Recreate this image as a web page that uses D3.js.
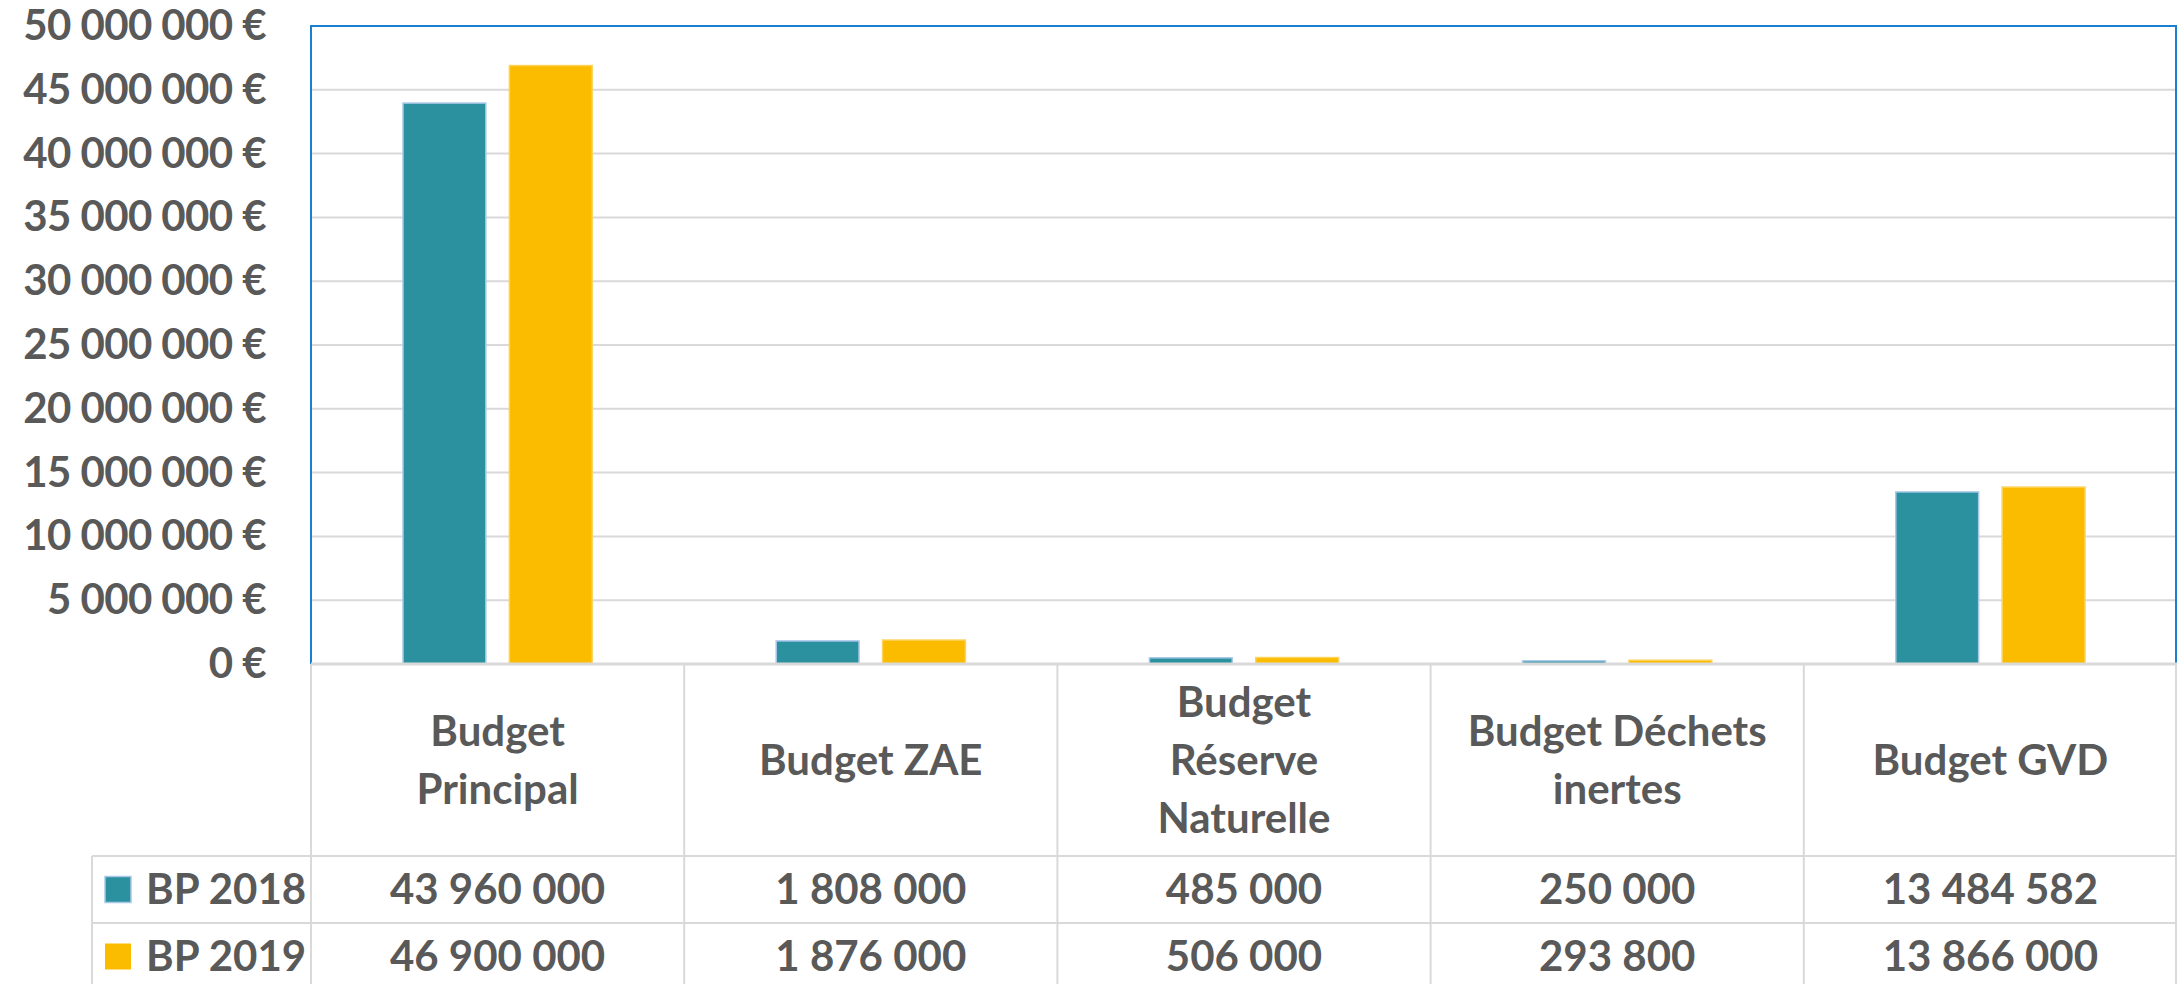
<!DOCTYPE html>
<html lang="fr">
<head>
<meta charset="utf-8">
<script src="https://cdn.jsdelivr.net/npm/d3@7"></script>
<style>
    body { margin: 0; background: #fff; }
    svg { display: block; font-family: Lato, "Open Sans", sans-serif; font-weight: 700; }
</style>
</head>
<body>
<div id="chart"></div>
<script>
// --- Données ---
const categories = ["Budget\nPrincipal", "Budget ZAE", "Budget\nRéserve\nNaturelle", "Budget Déchets\ninertes", "Budget GVD"];
const seriesNames = ["BP 2018", "BP 2019"];
const bp2018 = [43960000, 1808000, 485000, 250000, 13484582];
const bp2019 = [46900000, 1876000, 506000, 293800, 13866000];
const yTicks = [0, 5000000, 10000000, 15000000, 20000000, 25000000, 30000000, 35000000, 40000000, 45000000, 50000000];

const colors = { "BP 2018": "#2c919e", "BP 2019": "#fbbc00" };
const strokes = { "BP 2018": "#a8c8ea", "BP 2019": "#fdd25a" };

const frLocale = d3.formatLocale({ decimal: ",", thousands: "\u00a0", grouping: [3], currency: ["", "\u00a0€"] });
const fmtEuro = frLocale.format("$,");
const fmtNum = frLocale.format(",");

// --- Dimensions ---
const W = 2178, H = 984;
const plot = { left: 311, right: 2177, top: 26, bottom: 664 };
const tableLeft = 92;
const rowTop = [856, 923];
const rowH = 67;
const textColor = "#595959";
const gridColor = "#d9d9d9";

const svg = d3.select("#chart").append("svg")
    .attr("width", W)
    .attr("height", H);

// --- Échelles ---
const y = d3.scaleLinear()
    .domain([0, 50000000])
    .range([plot.bottom, plot.top]);

const x0 = d3.scaleBand()
    .domain(categories)
    .range([plot.left, plot.right])
    .padding(0);

const outer = 92;
const x1 = d3.scaleBand()
    .domain(seriesNames)
    .range([outer, x0.bandwidth() - outer])
    .paddingInner(0.221)
    .paddingOuter(0);

// --- Quadrillage ---
svg.append("g")
    .selectAll("line")
    .data(yTicks.filter(d => d > 0))
    .join("line")
    .attr("x1", plot.left)
    .attr("x2", plot.right)
    .attr("y1", d => y(d))
    .attr("y2", d => y(d))
    .attr("stroke", gridColor)
    .attr("stroke-width", 2);

// --- Axe Y ---
const yAxis = svg.append("g")
    .attr("transform", `translate(${plot.left},0)`)
    .call(d3.axisLeft(y).tickValues(yTicks).tickFormat(fmtEuro).tickSize(0).tickPadding(45));
yAxis.select(".domain").remove();
yAxis.selectAll("text")
    .attr("fill", textColor)
    .attr("letter-spacing", "-0.6")
    .style("font-size", "42px")
    .style("font-family", "Lato, 'Open Sans', sans-serif")
    .style("font-weight", 700);

// --- Barres ---
const groups = svg.append("g")
    .selectAll("g")
    .data(categories.map((c, i) => ({ cat: c, values: [bp2018[i], bp2019[i]] })))
    .join("g")
    .attr("transform", d => `translate(${x0(d.cat)},0)`);

groups.selectAll("rect")
    .data(d => d.values.map((v, j) => ({ key: seriesNames[j], value: v })))
    .join("rect")
    .attr("x", d => x1(d.key))
    .attr("width", x1.bandwidth())
    .attr("y", d => y(d.value))
    .attr("height", d => y(0) - y(d.value))
    .attr("fill", d => colors[d.key])
    .attr("stroke", d => strokes[d.key])
    .attr("stroke-width", 1.5);

// --- Bordure de la zone de traçage ---
svg.append("path")
    .attr("d", `M${plot.left},${plot.bottom} V${plot.top} H${plot.right - 1} V${plot.bottom}`)
    .attr("fill", "none")
    .attr("stroke", "#1b7fd1")
    .attr("stroke-width", 2);

// --- Tableau de données ---
const table = svg.append("g");
const tableBottom = rowTop[1] + rowH;

// lignes horizontales
table.append("line")
    .attr("x1", plot.left).attr("x2", plot.right)
    .attr("y1", plot.bottom).attr("y2", plot.bottom)
    .attr("stroke", gridColor).attr("stroke-width", 3);

table.selectAll("line.row")
    .data(rowTop)
    .join("line")
    .attr("class", "row")
    .attr("x1", tableLeft).attr("x2", plot.right)
    .attr("y1", d => d).attr("y2", d => d)
    .attr("stroke", gridColor).attr("stroke-width", 2);

// lignes verticales
table.selectAll("line.col")
    .data(categories.map(c => x0(c)).concat([plot.right - 1]))
    .join("line")
    .attr("class", "col")
    .attr("x1", d => d).attr("x2", d => d)
    .attr("y1", plot.bottom).attr("y2", tableBottom)
    .attr("stroke", gridColor).attr("stroke-width", 2);

table.append("line")
    .attr("x1", tableLeft).attr("x2", tableLeft)
    .attr("y1", rowTop[0]).attr("y2", tableBottom)
    .attr("stroke", gridColor).attr("stroke-width", 2);

// en-têtes de catégories
const lineH = 58;
const headerMid = (plot.bottom + rowTop[0]) / 2;
table.selectAll("text.cat")
    .data(categories)
    .join("text")
    .attr("class", "cat")
    .attr("text-anchor", "middle")
    .attr("fill", textColor)
    .style("font-size", "42px")
    .each(function (d) {
        const lines = d.split("\n");
        const t = d3.select(this);
        lines.forEach((l, k) => {
            t.append("tspan")
                .attr("x", x0(d) + x0.bandwidth() / 2)
                .attr("y", headerMid + (k - (lines.length - 1) / 2) * lineH)
                .attr("dy", "0.35em")
                .text(l);
        });
    });

// lignes de valeurs
const rows = [bp2018, bp2019];
rows.forEach((vals, r) => {
    const cy = rowTop[r] + rowH / 2;
    const key = seriesNames[r];

    table.append("rect")
        .attr("x", 105).attr("y", cy - 13)
        .attr("width", 26).attr("height", 26)
        .attr("fill", colors[key])
        .attr("stroke", r === 0 ? strokes[key] : "none")
        .attr("stroke-width", 1.5);

    table.append("text")
        .attr("x", 146).attr("y", cy).attr("dy", "0.35em")
        .attr("fill", textColor)
        .style("font-size", "42px")
        .text(key);

    table.selectAll(null)
        .data(vals)
        .join("text")
        .attr("x", (d, i) => x0(categories[i]) + x0.bandwidth() / 2)
        .attr("y", cy).attr("dy", "0.35em")
        .attr("text-anchor", "middle")
        .attr("fill", textColor)
        .style("font-size", "42px")
        .text(d => fmtNum(d));
});
</script>
</body>
</html>
